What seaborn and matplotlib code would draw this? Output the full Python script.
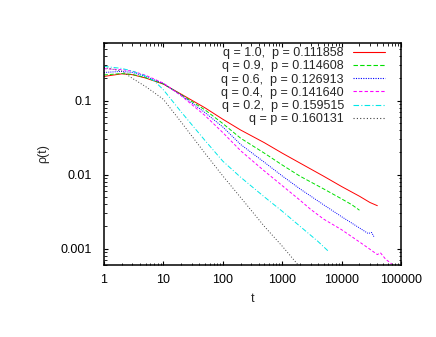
import numpy as np
import pandas as pd
import matplotlib
matplotlib.use("Agg")
import matplotlib.pyplot as plt
import seaborn as sns
from matplotlib.ticker import LogLocator, FuncFormatter, NullFormatter

# dados (t, rho) para cada curva
labels = ["q = 1.0,  p = 0.111858", "q = 0.9,  p = 0.114608", "q = 0.6,  p = 0.126913",
          "q = 0.4,  p = 0.141640", "q = 0.2,  p = 0.159515", "q = p = 0.160131"]

t_red = [1, 2, 3, 5, 10, 20, 50, 100, 200, 500, 1000, 2000, 5000, 10000, 20000, 30000, 40000]
rho_red = [0.212, 0.23, 0.224, 0.202, 0.167, 0.122, 0.080, 0.056, 0.040, 0.027, 0.0195, 0.0143,
           0.0095, 0.0069, 0.0051, 0.0042, 0.0038]

t_green = [1, 2, 3, 5, 10, 20, 50, 100, 200, 500, 1000, 2000, 5000, 10000, 15000, 20000]
rho_green = [0.222, 0.232, 0.226, 0.204, 0.168, 0.12, 0.075, 0.049, 0.031, 0.0195, 0.0135, 0.0095,
             0.0064, 0.0047, 0.0039, 0.0033]

t_blue = [1, 2, 3, 5, 10, 20, 50, 100, 200, 500, 1000, 2000, 5000, 10000, 20000, 28000, 32000, 35000]
rho_blue = [0.24, 0.248, 0.24, 0.212, 0.17, 0.118, 0.069, 0.044, 0.0255, 0.0147, 0.0096, 0.0064,
            0.0039, 0.0027, 0.0019, 0.0016, 0.00165, 0.00145]

t_mag = [1, 2, 3, 5, 10, 20, 50, 100, 200, 500, 1000, 2000, 3000, 5000, 10000, 20000, 30000,
         40000, 45000, 55000, 70000]
rho_mag = [0.27, 0.262, 0.25, 0.22, 0.172, 0.116, 0.063, 0.037, 0.021, 0.0112, 0.0071, 0.0045,
           0.0034, 0.0025, 0.0018, 0.00123, 0.00098, 0.00083, 0.00088, 0.00072, 0.00062]

t_cyan = [1, 2, 3, 5, 7, 10, 20, 50, 100, 200, 500, 1000, 2000, 4000, 6000]
rho_cyan = [0.29, 0.272, 0.25, 0.215, 0.185, 0.14, 0.07, 0.029, 0.0152, 0.0092, 0.005, 0.0032,
            0.002, 0.00125, 0.00092]

t_black = [1, 2, 3, 5, 7, 10, 20, 50, 100, 200, 500, 1000, 2000]
rho_black = [0.28, 0.25, 0.2, 0.155, 0.128, 0.104, 0.051, 0.0195, 0.0096, 0.0049, 0.002, 0.00108, 0.00056]

series = [(t_red, rho_red), (t_green, rho_green), (t_blue, rho_blue),
          (t_mag, rho_mag), (t_cyan, rho_cyan), (t_black, rho_black)]
cores = ["#ff0000", "#00e000", "#0000ff", "#ff00ff", "#00e8e8", "#404040"]
estilos = ["-", (0, (4, 2)), (0, (1, 1.2)), (0, (3, 2)), (0, (5, 2, 1, 2)), (0, (1, 2))]

sns.set_style("ticks")
plt.rcParams['font.family'] = ['Liberation Sans', 'DejaVu Sans']
plt.rcParams['font.size'] = 9

fig = plt.figure(figsize=(4.36, 3.37), dpi=100)
ax = fig.add_axes([0.2385, 0.2136, 0.6812, 0.6588])

for (t, r), lab, c, ls in zip(series, labels, cores, estilos):
    sns.lineplot(x=t, y=r, ax=ax, color=c, linestyle=ls, linewidth=0.7, label=lab, sort=False)

ax.set_xscale('log')
ax.set_yscale('log')
ax.set_xlim(1, 100000)
ax.set_ylim(0.0006, 0.6)

fmt = FuncFormatter(lambda v, p: '{:g}'.format(v))
ax.xaxis.set_major_locator(LogLocator(base=10, numticks=10))
ax.yaxis.set_major_locator(LogLocator(base=10, numticks=10))
ax.xaxis.set_major_formatter(fmt)
ax.yaxis.set_major_formatter(fmt)
ax.xaxis.set_minor_locator(LogLocator(base=10, subs=np.arange(2, 10), numticks=20))
ax.yaxis.set_minor_locator(LogLocator(base=10, subs=np.arange(2, 10), numticks=20))
ax.xaxis.set_minor_formatter(NullFormatter())
ax.yaxis.set_minor_formatter(NullFormatter())

ax.tick_params(which='both', direction='in', top=True, right=True, colors='black', labelsize=9)
ax.tick_params(which='major', length=3.2, width=0.8)
ax.tick_params(which='minor', length=1.8, width=0.6)
ax.tick_params(axis='y', pad=9)
ax.tick_params(axis='x', pad=6.5)
for s in ax.spines.values():
    s.set_linewidth(1.1)
    s.set_color('black')

ax.set_xlabel('t', fontsize=9, labelpad=5.3)
ax.set_ylabel('ρ(t)', fontsize=9, labelpad=8)

leg = ax.legend(loc='upper right', bbox_to_anchor=(0.963, 1.004), frameon=False,
                markerfirst=False, fontsize=9, handlelength=2.6, handletextpad=0.7,
                labelspacing=0.1, borderaxespad=0.0, borderpad=0.4)
# garantir cor e estilo das amostras da legenda
for ln, c, ls in zip(leg.get_lines(), cores, estilos):
    ln.set_color(c)
    ln.set_linestyle(ls)
    ln.set_linewidth(0.8)

fig.savefig('out.png', dpi=100)
